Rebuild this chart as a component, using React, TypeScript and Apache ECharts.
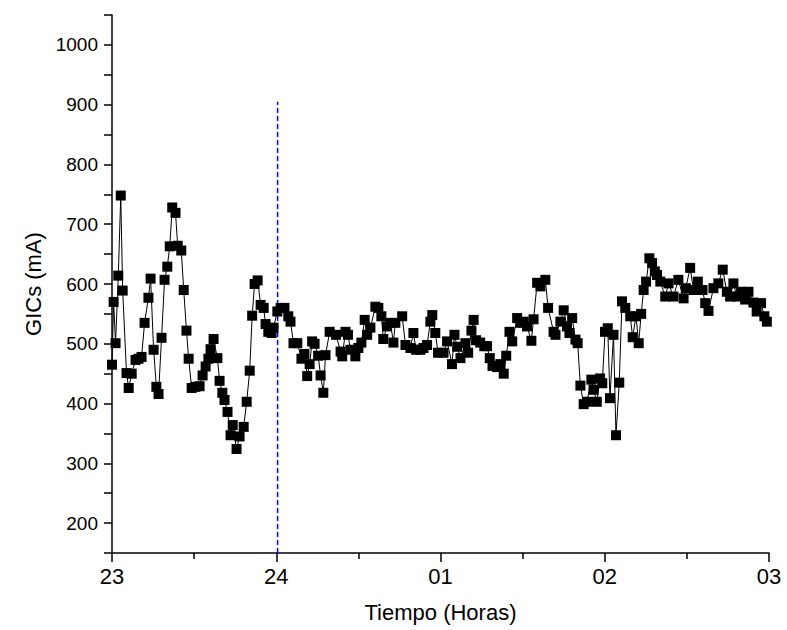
import React, { useEffect, useRef } from "react";
import * as echarts from "echarts";

// minutes after 23:00
const minutes: number[] = [
  0, 0.6, 1.3, 2.3, 3.2, 3.9, 5.3, 6.1, 7.2, 8.6, 9.7, 10.8, 11.9, 13.3, 14.1, 15.2, 16.2, 17.0, 18.1, 19.2,
  20.2, 21.1, 22.0, 23.2, 24.0, 25.3, 26.2, 27.2, 28.0, 29.1, 30.5, 32.0, 33.1, 34.2, 35.2, 36.0, 37.1, 38.5, 39.3, 40.3,
  41.1, 42.2, 43.3, 44.1, 45.5, 46.6, 48.1, 49.2, 50.3, 51.2, 52.1, 53.2, 54.3, 55.4, 56.1, 57.1, 58.3, 59.0, 60.4, 61.6,
  63.0, 64.4, 65.2, 66.3, 67.7, 69.2, 70.3, 71.3, 72.2, 73.1, 74.0, 75.3, 76.2, 77.2, 78.0, 79.5, 81.8, 83.5, 84.1, 85.3,
  86.2, 87.1, 88.9, 90.0, 91.1, 92.3, 93.2, 94.4, 96.2, 97.3, 98.4, 99.1, 100.5, 101.7, 102.8, 103.5, 106.0, 107.2, 109.0, 110.1,
  111.1, 112.7, 113.8, 115.1, 116.3, 117.0, 118.1, 119.1, 121.1, 122.4, 124.2, 125.1, 126.1, 127.3, 129.1, 130.1, 131.3, 132.1, 133.0, 134.5,
  136.0, 137.0, 138.0, 139.0, 140.7, 141.9, 143.1, 144.0, 145.2, 146.2, 148.0, 149.2, 150.4, 151.6, 153.2, 154.0, 155.3, 156.5, 158.3, 159.3,
  161.3, 162.0, 163.8, 165.0, 166.2, 167.1, 168.1, 169.3, 170.1, 171.1, 172.3, 173.5, 175.1, 175.9, 177.1, 178.3, 179.1, 180.1, 181.1, 181.9,
  183.2, 184.1, 185.3, 186.3, 187.5, 189.3, 190.2, 191.4, 192.4, 193.3, 194.2, 195.1, 196.3, 197.3, 198.3, 199.1, 200.3, 202.1, 203.3, 205.1,
  206.9, 208.8, 209.6, 211.2, 212.4, 214.0, 215.7, 216.7, 217.9, 219.7, 221.5, 223.1, 224.6, 225.8, 227.0, 228.3, 229.8, 231.3, 232.5, 234.3,
  235.5, 237.1, 238.3, 239.2,
];

const gicsMa: number[] = [
  465, 570, 501, 614, 748, 589, 451, 426, 450, 473, 475, 478, 535, 577, 609, 490, 428, 416, 510, 607,
  629, 663, 728, 719, 664, 656, 590, 522, 475, 426, 428, 429, 447, 462, 475, 491, 508, 476, 438, 418,
  406, 386, 347, 364, 324, 345, 361, 403, 455, 547, 600, 606, 565, 560, 533, 520, 518, 527, 554, 560,
  560, 546, 537, 501, 501, 475, 483, 446, 466, 504, 500, 480, 447, 418, 481, 520, 515, 487, 479, 520,
  515, 490, 479, 493, 502, 540, 515, 527, 562, 560, 546, 508, 529, 535, 502, 535, 546, 498, 493, 518,
  490, 490, 493, 498, 537, 548, 518, 485, 485, 504, 466, 515, 495, 476, 501, 485, 522, 540, 506, 502,
  496, 496, 476, 463, 461, 466, 450, 480, 520, 504, 543, 535, 537, 529, 505, 541, 602, 596, 607, 560,
  520, 515, 537, 556, 529, 518, 543, 507, 501, 430, 399, 403, 440, 423, 403, 442, 434, 520, 526, 409,
  515, 347, 435, 571, 560, 546, 511, 546, 501, 550, 590, 604, 643, 635, 621, 615, 604, 579, 601, 579,
  607, 576, 593, 627, 590, 604, 590, 568, 555, 593, 601, 624, 587, 579, 601, 579, 587, 574, 587, 569,
  554, 568, 546, 537,
];

const xTickValues: number[] = [0, 60, 120, 180, 240];
const xTickLabels: string[] = ["23", "24", "01", "02", "03"];
const yLabelValues: number[] = [200, 300, 400, 500, 600, 700, 800, 900, 1000];

// dashed marker at midnight
const markerX: number[] = [60.5, 60.5];
const markerY: number[] = [150, 905];

const FONT = "'Liberation Sans', Arial, sans-serif";

export default function App() {
  const ref = useRef<HTMLDivElement>(null);
  useEffect(() => {
    if (!ref.current) return;
    const chart = echarts.init(ref.current, null, { renderer: "svg" });
    const data = minutes.map((m, i) => [m, gicsMa[i]]);
    const marker = markerX.map((m, i) => [m, markerY[i]]);
    chart.setOption({
      animation: false,
      textStyle: { fontFamily: FONT },
      grid: { left: 112, right: 18, top: 15, bottom: 77 },
      xAxis: {
        type: "value",
        min: 0,
        max: 240,
        interval: 60,
        axisLine: { lineStyle: { color: "#000", width: 1.5 } },
        axisTick: { length: 9, lineStyle: { color: "#000", width: 1.5 } },
        minorTick: { show: true, splitNumber: 2, length: 6, lineStyle: { color: "#000", width: 1.5 } },
        splitLine: { show: false },
        axisLabel: {
          formatter: (v: number) => {
            const i = xTickValues.indexOf(v);
            return i >= 0 ? xTickLabels[i] : "";
          },
          fontSize: 22,
          color: "#000",
          margin: 12,
          fontFamily: FONT,
        },
        name: "Tiempo (Horas)",
        nameLocation: "middle",
        nameGap: 48,
        nameTextStyle: { fontSize: 22, color: "#000", fontFamily: FONT },
      },
      yAxis: {
        type: "value",
        min: 150,
        max: 1050,
        interval: 50,
        position: "left",
        axisLine: { show: true, lineStyle: { color: "#000", width: 1.5 } },
        axisTick: { show: true, length: 8, lineStyle: { color: "#000", width: 1.5 } },
        axisLabel: {
          formatter: (v: number) => (yLabelValues.indexOf(v) >= 0 ? String(v) : ""),
          fontSize: 19,
          color: "#000",
          margin: 14,
          fontFamily: FONT,
        },
        splitLine: { show: false },
        name: "GICs (mA)",
        nameLocation: "middle",
        nameGap: 66,
        nameTextStyle: { fontSize: 22, color: "#000", fontFamily: FONT },
      },
      series: [
        {
          type: "line",
          data: marker,
          symbol: "none",
          lineStyle: { color: "#0000ff", width: 1.5, type: [5, 3] },
          z: 1,
        },
        {
          type: "line",
          data,
          symbol: "rect",
          symbolSize: 10,
          showAllSymbol: true,
          itemStyle: { color: "#000" },
          lineStyle: { color: "#000", width: 1 },
          z: 2,
        },
      ],
    });
    return () => chart.dispose();
  }, []);
  return <div ref={ref} style={{ position: "absolute", left: 0, top: 0, width: 787, height: 630 }} />;
}
